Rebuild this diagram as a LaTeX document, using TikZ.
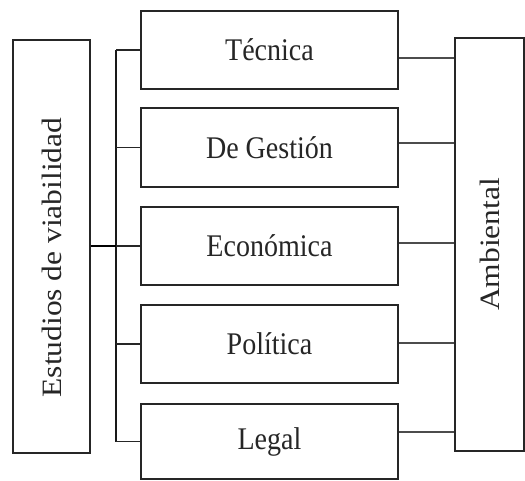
\documentclass[tikz,border=0pt]{standalone}
\usepackage{fontspec}
\setmainfont{Liberation Serif}
\usepackage{graphicx}
\newcommand{\sqz}[1]{\scalebox{0.89}[1]{#1}}
\begin{document}
\begin{tikzpicture}[x=1pt,y=-1pt,
  txt/.style={font=\fontsize{31.5}{36}\selectfont, text=black!85},
  box/.style={draw=black!85, line width=1.8pt, inner sep=0pt, fill=white},
  midbox/.style={box, txt, minimum width=257pt, minimum height=78pt},
  busline/.style={draw=black!90, line width=2pt},
  branch/.style={draw=black!85, line width=1.5pt},
  mainline/.style={draw=black, line width=2.6pt},
  rline/.style={draw=black!70, line width=1.3pt}]
\useasboundingbox (0,0) rectangle (525,480);
\fill[white] (0,0) rectangle (525,480);
% boxes
\node[box, txt, minimum width=77pt, minimum height=413pt] (est) at (51.5,246.5)
  {\sqz{\rotatebox{90}{Estudios de viabilidad\hspace{22pt}}}};
\node[midbox] (tec) at (269.5,50) {\sqz{Técnica}};
\node[midbox, minimum height=79pt] (ges) at (269.5,147.5) {\sqz{De Gestión}};
\node[midbox] (eco) at (269.5,246) {\sqz{Económica}};
\node[midbox] (pol) at (269.5,344) {\sqz{Política}};
\node[midbox, minimum height=75pt] (leg) at (269.5,441.5) {\sqz{Legal}};
\node[box, txt, minimum width=69pt, minimum height=413pt] (amb) at (489.5,244.5)
  {\sqz{\rotatebox{90}{\raisebox{-5pt}{Ambiental}}}};
% left bus
\coordinate (busx) at (116,0);
\draw[busline] (tec.west -| busx) -- (leg.west -| busx);
\foreach \n in {tec,ges,eco,pol,leg}
  \draw[branch] (\n.west -| busx) -- (\n.west);
\draw[mainline] (est.east |- eco.west) -- (eco.west -| busx);
% right connectors
\draw[rline] ([yshift=-8pt]tec.east) -- ([yshift=-8pt]tec.east -| amb.west);
\draw[rline] ([yshift=4.5pt]ges.east) -- ([yshift=4.5pt]ges.east -| amb.west);
\draw[rline] ([yshift=3pt]eco.east) -- ([yshift=3pt]eco.east -| amb.west);
\draw[rline] ([yshift=1pt]pol.east) -- ([yshift=1pt]pol.east -| amb.west);
\draw[rline] ([yshift=9.5pt]leg.east) -- ([yshift=9.5pt]leg.east -| amb.west);
\end{tikzpicture}
\end{document}
